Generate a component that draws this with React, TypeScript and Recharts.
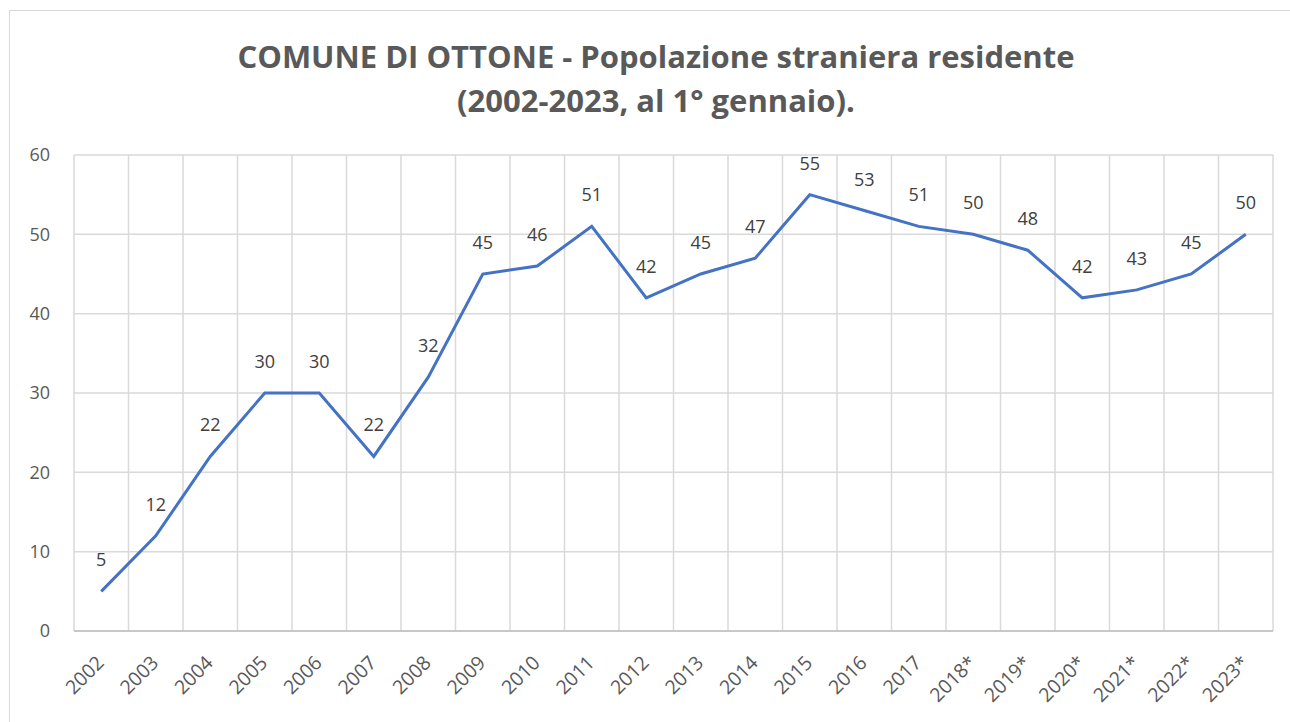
import { LineChart, Line, XAxis, YAxis, CartesianGrid, LabelList } from 'recharts';

const years = [
  '2002', '2003', '2004', '2005', '2006', '2007', '2008', '2009', '2010', '2011', '2012',
  '2013', '2014', '2015', '2016', '2017', '2018*', '2019*', '2020*', '2021*', '2022*', '2023*',
];
const stranieri = [5, 12, 22, 30, 30, 22, 32, 45, 46, 51, 42, 45, 47, 55, 53, 51, 50, 48, 42, 43, 45, 50];
const yTicks = [0, 10, 20, 30, 40, 50, 60];

const data = years.map((anno, i) => ({ anno, valore: stranieri[i] }));

const FONT = '"Open Sans", sans-serif';

function XTick(props: any) {
  const { x, y, payload } = props;
  const px = x + 4;
  const py = y + 25;
  return (
    <text
      x={px}
      y={py}
      transform={`rotate(-45 ${px} ${py})`}
      textAnchor="end"
      fill="#595959"
      fontSize={19.5}
      fontFamily={FONT}
    >
      {payload.value}
    </text>
  );
}

// vertical grid lines sit on category boundaries, like Excel
const boundaryLines = ({ offset }: any) =>
  Array.from({ length: years.length + 1 }, (_, i) => offset.left + (i * offset.width) / years.length);

export default function App() {
  return (
    <div style={{ position: 'absolute', left: 0, top: 0, width: 1290, height: 722, background: '#fff', overflow: 'hidden' }}>
      <div
        style={{
          position: 'absolute', left: 9, top: 10, width: 1300, height: 740,
          border: '1px solid #d9d9d9', boxSizing: 'border-box',
        }}
      />
      <div
        style={{
          position: 'absolute', left: 9, top: 34, width: 1294, textAlign: 'center',
          fontFamily: FONT, fontWeight: 700, fontSize: 31, lineHeight: '44px', color: '#595959',
        }}
      >
        COMUNE DI OTTONE - Popolazione straniera residente
        <br />
        (2002-2023, al 1° gennaio).
      </div>
      <div style={{ position: 'absolute', left: 0, top: 0 }}>
        <LineChart width={1290} height={722} data={data} margin={{ top: 155, right: 17, bottom: 0, left: 24 }}>
          <CartesianGrid stroke="#d9d9d9" strokeWidth={1.5} verticalCoordinatesGenerator={boundaryLines} />
          <XAxis
            dataKey="anno"
            scale="band"
            interval={0}
            tick={<XTick />}
            tickLine={false}
            axisLine={{ stroke: '#bfbfbf', strokeWidth: 1.5 }}
            height={91}
          />
          <YAxis
            domain={[0, 60]}
            ticks={yTicks}
            width={50}
            axisLine={false}
            tickLine={false}
            tickSize={6}
            tickMargin={18}
            tick={{ fill: '#595959', fontSize: 18, fontFamily: FONT }}
          />
          <Line
            type="linear"
            dataKey="valore"
            stroke="#4472C4"
            strokeWidth={3}
            dot={false}
            isAnimationActive={false}
          >
            <LabelList dataKey="valore" position="top" offset={25} fill="#404040" fontSize={18} fontFamily={FONT} />
          </Line>
        </LineChart>
      </div>
    </div>
  );
}
